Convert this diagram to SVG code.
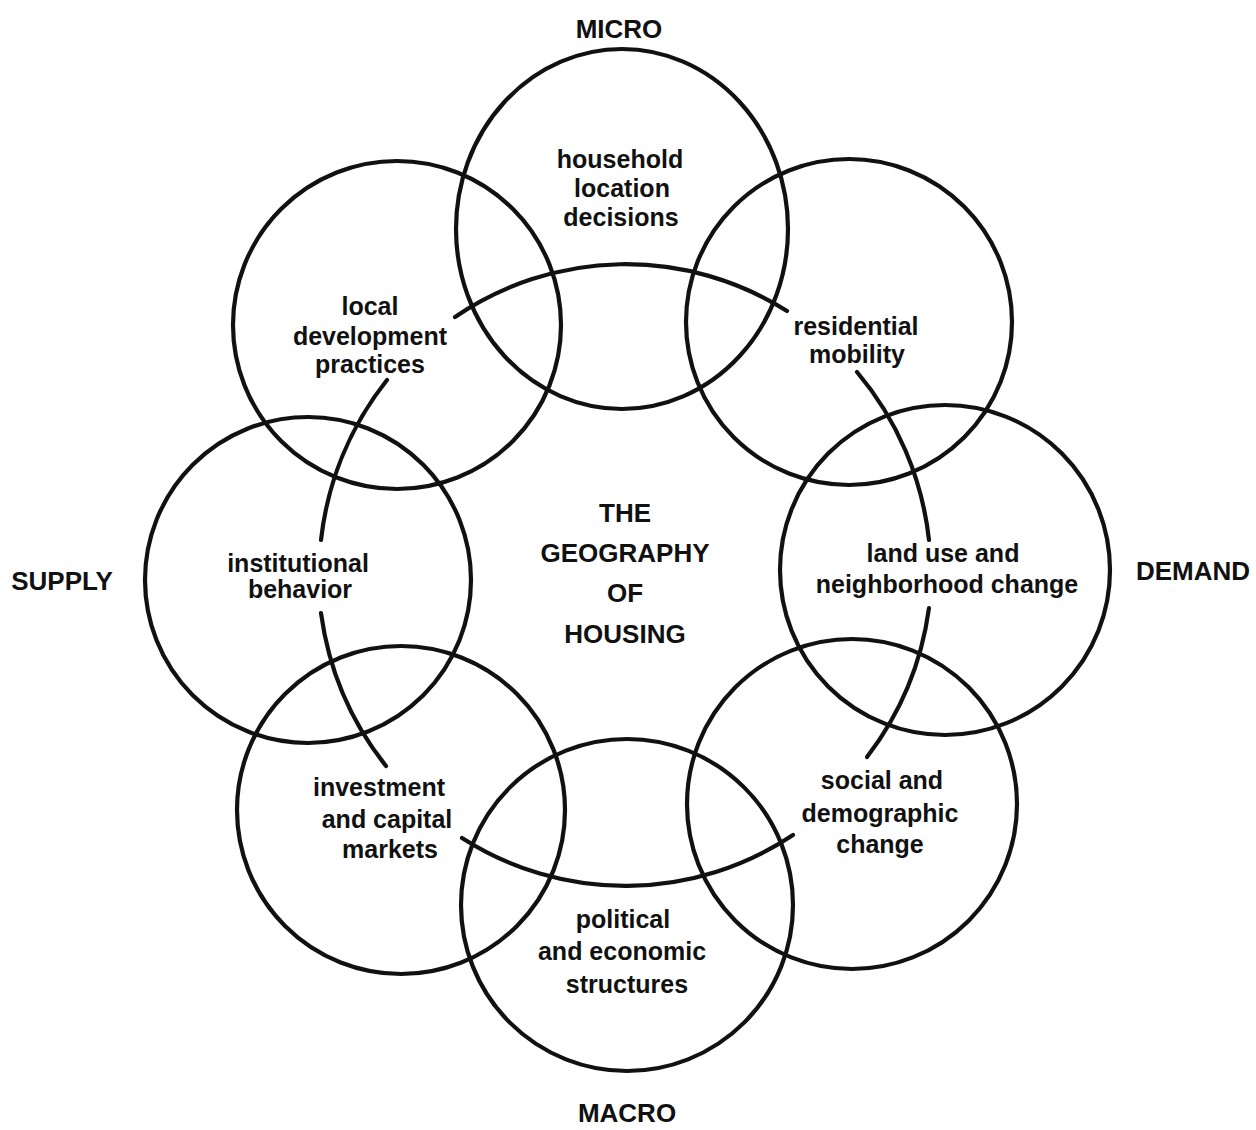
<svg xmlns="http://www.w3.org/2000/svg" width="1256" height="1130" viewBox="0 0 1256 1130">
  <style>
    .ring { fill: none; stroke: #111; stroke-width: 4.2; }
    .arc { fill: none; stroke: #111; stroke-width: 4.2; stroke-linecap: round; }
    text { font-family: "Liberation Sans", "Arial", sans-serif; font-weight: bold; fill: #111; text-anchor: middle; }
    .lbl { font-size: 25px; }
    .axis { font-size: 26px; }
    .title { font-size: 26px; }
  </style>
  <rect width="1256" height="1130" fill="#fff"/>

  <!-- outer ring of eight topic circles -->
  <g id="household">
    <ellipse class="ring" cx="622" cy="229" rx="166" ry="180"/>
    <text class="lbl" x="620" y="168">household</text>
    <text class="lbl" x="622" y="197">location</text>
    <text class="lbl" x="621" y="226">decisions</text>
  </g>
  <g id="residential">
    <circle class="ring" cx="849" cy="322" r="163"/>
    <text class="lbl" x="856" y="335">residential</text>
    <text class="lbl" x="857" y="363">mobility</text>
  </g>
  <g id="landuse">
    <circle class="ring" cx="945" cy="570" r="165"/>
    <text class="lbl" x="943" y="562">land use and</text>
    <text class="lbl" x="947" y="593">neighborhood change</text>
  </g>
  <g id="social">
    <circle class="ring" cx="852" cy="804" r="165"/>
    <text class="lbl" x="882" y="789">social and</text>
    <text class="lbl" x="880" y="822">demographic</text>
    <text class="lbl" x="880" y="853">change</text>
  </g>
  <g id="political">
    <circle class="ring" cx="627" cy="905" r="166"/>
    <text class="lbl" x="623" y="928">political</text>
    <text class="lbl" x="622" y="960">and economic</text>
    <text class="lbl" x="627" y="993">structures</text>
  </g>
  <g id="investment">
    <circle class="ring" cx="401" cy="810" r="164"/>
    <text class="lbl" x="379" y="796">investment</text>
    <text class="lbl" x="387" y="828">and capital</text>
    <text class="lbl" x="390" y="858">markets</text>
  </g>
  <g id="institutional">
    <circle class="ring" cx="308" cy="580" r="163"/>
    <text class="lbl" x="298" y="572">institutional</text>
    <text class="lbl" x="300" y="598">behavior</text>
  </g>
  <g id="local">
    <circle class="ring" cx="397" cy="325" r="164"/>
    <text class="lbl" x="370" y="315">local</text>
    <text class="lbl" x="370" y="345">development</text>
    <text class="lbl" x="370" y="373">practices</text>
  </g>

  <!-- central theme -->
  <g id="center">
    <text class="title" x="625" y="522">THE</text>
    <text class="title" x="625" y="562">GEOGRAPHY</text>
    <text class="title" x="625" y="602">OF</text>
    <text class="title" x="625" y="643">HOUSING</text>
  </g>

  <!-- axis labels -->
  <g id="axes">
    <text class="axis" x="619" y="38">MICRO</text>
    <text class="axis" x="627" y="1122">MACRO</text>
    <text class="axis" x="62" y="590">SUPPLY</text>
    <text class="axis" x="1193" y="580">DEMAND</text>
  </g>

  <!-- inner linking ring, broken around each label -->
  <g id="connectors">
    <path class="arc" d="M 455 317 A 306 311 0 0 1 787 311"/>
    <path class="arc" d="M 857 372 A 306 311 0 0 1 929 540"/>
    <path class="arc" d="M 929 608 A 306 311 0 0 1 867 757"/>
    <path class="arc" d="M 793 835 A 306 311 0 0 1 462 838"/>
    <path class="arc" d="M 386 766 A 306 311 0 0 1 321 613"/>
    <path class="arc" d="M 321 540 A 306 311 0 0 1 387 380"/>
  </g>
</svg>
